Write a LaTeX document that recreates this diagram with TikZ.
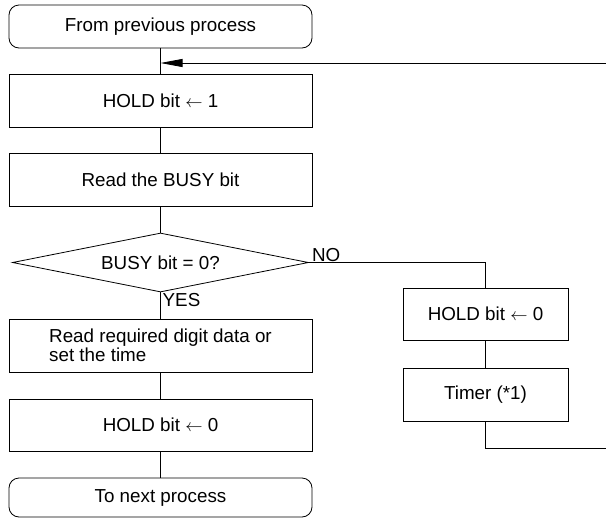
\documentclass[tikz,border=0pt]{standalone}
\usepackage{fontspec}
\setmainfont{Liberation Sans}
\usetikzlibrary{shapes.geometric,arrows.meta}

\tikzset{
  flowtext/.style={font=\fontsize{18.8}{17}\selectfont},
  flowbox/.style={draw, line width=0.8pt, minimum width=303pt, minimum height=53pt, inner sep=0pt, flowtext},
  termbox/.style={flowbox, rounded corners=10pt},
  sidebox/.style={flowbox, minimum width=165pt},
  decision/.style={draw, diamond, aspect=5, line width=0.8pt, minimum width=296pt, minimum height=59pt, inner sep=0pt, flowtext},
  flowline/.style={line width=0.8pt},
  branchlbl/.style={inner sep=1pt, flowtext}
}

\begin{document}
\begin{tikzpicture}[x=1pt, y=-1pt]
  \useasboundingbox (0,0) rectangle (606,520);

  % Main column
  \node[termbox, minimum height=43pt] (start) at (160.5,26.5) {From previous process};
  \node[flowbox] (holdon) at (160.5,100.5) {HOLD bit $\leftarrow$ 1};
  \node[flowbox] (readbusy) at (160.5,179.5) {Read the BUSY bit};
  \node[decision] (busy) at (160.5,262.5) {BUSY bit = 0?};
  \node[flowbox, align=left] (readdata) at (160.5,345.5) {Read required digit data or\\set the time};
  \node[flowbox, minimum height=52pt] (holdoff) at (160.5,425) {HOLD bit $\leftarrow$ 0};
  \node[termbox, minimum height=39pt] (finish) at (160.5,497.5) {To next process};

  % Retry branch
  \node[sidebox, minimum height=52pt] (retryoff) at (485.5,314) {HOLD bit $\leftarrow$ 0};
  \node[sidebox] (timer) at (485.5,394.5) {Timer (*1)};
  \coordinate (loopin) at (606,63);
  \coordinate (loopout) at (606,448);

  % Connectors
  \foreach \from/\to in {start/holdon, holdon/readbusy, readbusy/busy, busy/readdata, readdata/holdoff, holdoff/finish, retryoff/timer}
    \draw[flowline] (\from.south) -- (\to.north);
  \draw[flowline] (busy.east) -| (retryoff.north);
  \draw[flowline] (timer.south) |- (loopout);
  \draw[flowline, -{Triangle[length=22pt, width=8pt]}] (loopin) -- (loopin -| start.south);

  % Branch labels
  \node[branchlbl, anchor=south west] (nolbl) at ([xshift=2pt]busy.east) {NO};
  \node[branchlbl, anchor=north west] (yeslbl) at ([xshift=1pt]busy.south) {YES};

\end{tikzpicture}
\end{document}
